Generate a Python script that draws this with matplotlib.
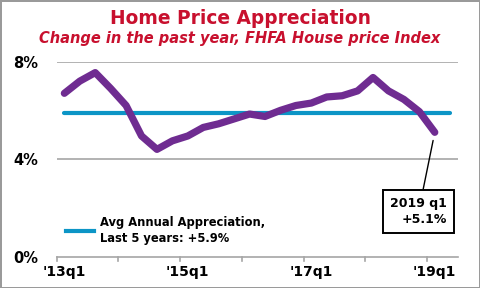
import matplotlib
matplotlib.use("Agg")
import matplotlib.pyplot as plt

# quarters 2013q1 .. 2019q1, plus one empty slot (2019q2)
quarters = ["'13q1", "'13q2", "'13q3", "'13q4", "'14q1", "'14q2", "'14q3", "'14q4",
            "'15q1", "'15q2", "'15q3", "'15q4", "'16q1", "'16q2", "'16q3", "'16q4",
            "'17q1", "'17q2", "'17q3", "'17q4", "'18q1", "'18q2", "'18q3", "'18q4",
            "'19q1", "'19q2"]
hpi = [6.7, 7.2, 7.55, 6.9, 6.2, 4.95, 4.4, 4.75,
       4.95, 5.3, 5.45, 5.65, 5.85, 5.75, 6.0, 6.2,
       6.3, 6.55, 6.6, 6.8, 7.35, 6.8, 6.45, 5.95,
       5.1]
avg_5yr = 5.9
tick_labels = ["'13q1", "'15q1", "'17q1", "'19q1"]

purple = '#6F2C91'
blue = '#0C95C6'
red = '#C8102E'

fig = plt.figure(figsize=(4.8, 2.88), dpi=100)
fig.patch.set_edgecolor('#9a9a9a')
fig.patch.set_linewidth(2)
ax = fig.add_axes([0.118, 0.109, 0.836, 0.677])

x = list(range(len(hpi)))
ax.plot(x, hpi, color=purple, lw=5.2, solid_capstyle='round', solid_joinstyle='round', zorder=3)
ax.plot(range(len(quarters)), [avg_5yr] * len(quarters), color=blue, lw=3,
        solid_capstyle='round', zorder=2)

ax.set_xlim(-0.5, len(quarters) - 0.5)
ax.set_ylim(0, 8)
ax.set_yticks([0, 4, 8])
ax.set_yticklabels(['0%', '4%', '8%'], fontsize=10.5, fontweight='bold')
for y in [4, 8]:
    ax.axhline(y, color='#a6a6a6', lw=1.2, zorder=1)

lab_pos = [quarters.index(t) for t in tick_labels]
ax.set_xticks(lab_pos)
ax.set_xticklabels(tick_labels, fontsize=10, fontweight='bold')
ax.tick_params(axis='x', length=0, pad=6)
ax.tick_params(axis='y', length=0, pad=31)
for lab in ax.get_yticklabels():
    lab.set_horizontalalignment('left')
# year boundary ticks
for b in range(0, len(quarters), 4):
    ax.plot([b - 0.5, b - 0.5], [0, -0.18], color='#a6a6a6', lw=1.2, clip_on=False)

for s in ['top', 'right', 'left']:
    ax.spines[s].set_visible(False)
ax.spines['bottom'].set_color('#a6a6a6')
ax.spines['bottom'].set_linewidth(1.2)

# legend
ax.plot([0.1, 1.9], [1.07, 1.07], color=blue, lw=3)
ax.text(2.3, 1.07, 'Avg Annual Appreciation,\nLast 5 years: +5.9%', fontsize=8.3,
        fontweight='bold', va='center', ha='left', linespacing=1.25)

# callout
ax.annotate('2019 q1\n+5.1%', xy=(24, hpi[-1]), xytext=(24.8, 1.86),
            fontsize=9, fontweight='bold', ha='right', va='center', multialignment='right',
            linespacing=1.3,
            bbox=dict(boxstyle='square,pad=0.55', fc='white', ec='black', lw=1.4),
            arrowprops=dict(arrowstyle='-', color='black', lw=1, shrinkA=0, shrinkB=6))

fig.text(0.5, 0.935, 'Home Price Appreciation', ha='center', va='center',
         fontsize=13.4, fontweight='bold', color=red)
fig.text(0.5, 0.865, 'Change in the past year, FHFA House price Index', ha='center',
         va='center', fontsize=10.5, fontweight='bold', style='italic', color=red)

fig.savefig('out.png', dpi=100, edgecolor=fig.get_edgecolor())
